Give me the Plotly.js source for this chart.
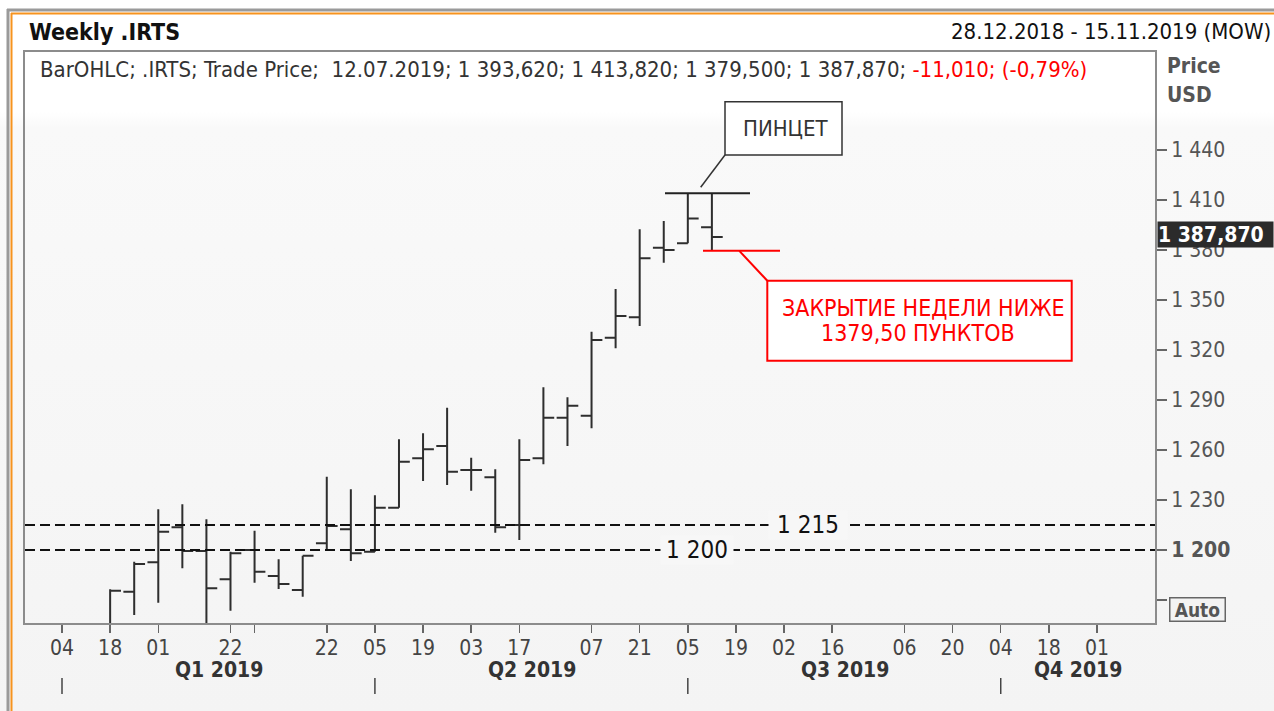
<!DOCTYPE html>
<html>
<head>
<meta charset="utf-8">
<script src="https://cdn.plot.ly/plotly-3.0.1.min.js"></script>
<style>
  html, body { margin:0; padding:0; }
  body { width:1274px; height:711px; overflow:hidden;
    background: linear-gradient(to bottom, #ffffff 0px, #ffffff 112px, #f9f9f9 128px, #f4f4f4 711px); }
  #chart { width:1274px; height:711px; }
</style>
</head>
<body>
<div id="chart"></div>
<script>
// ---- data (weekly bars, Friday dates) ----
const weeks = ['2019-01-18','2019-01-25','2019-02-01','2019-02-08','2019-02-15','2019-02-22',
  '2019-03-01','2019-03-08','2019-03-15','2019-03-22','2019-03-29','2019-04-05','2019-04-12',
  '2019-04-19','2019-04-26','2019-05-03','2019-05-10','2019-05-17','2019-05-24','2019-05-31',
  '2019-06-07','2019-06-14','2019-06-21','2019-06-28','2019-07-05','2019-07-12'];
const openP  = [1140.0,1175.0,1192.6,1213.6,1199.4,1182.4,1200.0,1184.4,1176.0,1204.0,1212.4,1199.0,1225.4,
  1255.0,1262.4,1248.0,1243.6,1215.0,1255.0,1279.4,1280.6,1327.4,1339.6,1381.4,1384.0,1393.62];
const highP  = [1176.5,1193.0,1224.4,1227.4,1218.4,1199.0,1211.6,1194.4,1196.6,1244.0,1236.4,1232.8,1266.4,
  1270.0,1285.4,1255.4,1248.4,1266.4,1297.6,1291.6,1331.0,1356.6,1392.4,1397.4,1414.0,1413.82];
const lowP   = [1135.0,1161.0,1168.4,1189.0,1150.0,1163.6,1180.4,1176.6,1172.0,1200.4,1193.4,1199.0,1225.4,
  1241.4,1239.0,1235.6,1210.4,1206.0,1251.4,1262.4,1273.0,1321.0,1334.4,1372.4,1384.0,1379.50];
const closeP = [1175.5,1191.6,1211.0,1199.4,1177.0,1198.0,1187.0,1179.6,1196.6,1214.4,1198.0,1225.4,1253.0,
  1260.4,1247.0,1248.0,1213.6,1254.0,1279.4,1286.6,1326.0,1340.4,1375.0,1380.0,1398.88,1387.87];

const levels = [1215, 1200];
const levelLabels = ['1 215', '1 200'];

const xTickVals = ['2019-01-04','2019-01-18','2019-02-01','2019-02-22','2019-03-01','2019-03-22',
  '2019-04-05','2019-04-19','2019-05-03','2019-05-17','2019-06-07','2019-06-21','2019-07-05',
  '2019-07-19','2019-08-02','2019-08-16','2019-09-06','2019-09-20','2019-10-04','2019-10-18','2019-11-01'];
const xTickText = ['04','18','01','22','','22','05','19','03','17','07','21','05','19','02','16','06','20','04','18','01'];

const quarterStarts = ['2019-01-04','2019-04-05','2019-07-05','2019-10-04'];
const quarterLabels = ['Q1 2019','Q2 2019','Q3 2019','Q4 2019'];

const yTickVals = [1170,1200,1230,1260,1290,1320,1350,1380,1410,1440];
const yTickText = ['','<b>1 200</b>','1 230','1 260','1 290','1 320','1 350','1 380','1 410','1 440'];

const symbol = '.IRTS';
const title = 'Weekly .IRTS';
const periodText = '28.12.2018 - 15.11.2019 (MOW)';
const tweezerText = 'ПИНЦЕТ';
const closeNoteLines = ['ЗАКРЫТИЕ НЕДЕЛИ НИЖЕ', '1379,50 ПУНКТОВ'];

// ---- helpers for layout placement ----
const W = 1274, H = 711, ML = 25, MR = 119, MT = 52, MB = 88;
const PW = W - ML - MR, PH = H - MT - MB;
const px = x => (x - ML) / PW;
const py = y => (H - MB - y) / PH;
const t0 = Date.UTC(2018, 11, 28);
const WEEKPX = 24.07, X0 = 37.93;
function xw(pix) {
  const d = new Date(t0 + (pix - X0) / WEEKPX * 7 * 864e5);
  return d.toISOString().slice(0, 19).replace('T', ' ');
}
const yv = y => 1200 + (550 - y) * 0.6;

function fmt(v, dec) {
  const s = Math.abs(v).toFixed(dec).split('.');
  const int = s[0].replace(/\B(?=(\d{3})+(?!\d))/g, ' ');
  return (v < 0 ? '-' : '') + int + (dec ? ',' + s[1] : '');
}

const F = '"DejaVu Sans Condensed", "Liberation Sans", Arial, sans-serif';
const n = weeks.length - 1;
const d = weeks[n].split('-');
const chg = closeP[n] - closeP[n - 1];
const pct = chg / closeP[n - 1] * 100;
const legendText = 'BarOHLC; ' + symbol + '; Trade Price;  ' + d[2] + '.' + d[1] + '.' + d[0] + '; ' +
  fmt(openP[n], 3) + '; ' + fmt(highP[n], 3) + '; ' + fmt(lowP[n], 3) + '; ' + fmt(closeP[n], 3) + '; ' +
  '<span style="color:#ff0000">' + fmt(chg, 3) + '; (' + fmt(pct, 2) + '%)</span>';

const trace = {
  type: 'ohlc', x: weeks, open: openP, high: highP, low: lowP, close: closeP,
  increasing: { line: { color: '#2e2e2e', width: 2 } },
  decreasing: { line: { color: '#2e2e2e', width: 2 } },
  tickwidth: 0.45, hoverinfo: 'skip'
};

const shapes = [];
const annotations = [];

// frame
shapes.push({ type:'line', xref:'paper', yref:'paper', x0:px(7), x1:px(1280), y0:py(10), y1:py(10), line:{color:'#9a9a9a', width:3} });
shapes.push({ type:'line', xref:'paper', yref:'paper', x0:px(8), x1:px(8), y0:py(9), y1:py(720), line:{color:'#9a9a9a', width:3} });
shapes.push({ type:'line', xref:'paper', yref:'paper', x0:px(11), x1:px(1280), y0:py(13.5), y1:py(13.5), line:{color:'#f7931e', width:2} });
shapes.push({ type:'line', xref:'paper', yref:'paper', x0:px(11.5), x1:px(11.5), y0:py(13), y1:py(720), line:{color:'#f7931e', width:2} });

// horizontal levels
levels.forEach(l => shapes.push({ type:'line', xref:'paper', yref:'y', x0:0, x1:1, y0:l, y1:l,
  line:{ color:'#111', width:2, dash:'10px,5px' } }));
annotations.push({ xref:'paper', yref:'y', x:px(808), y:levels[0], text:levelLabels[0], showarrow:false,
  font:{ size:24, color:'#111' }, bgcolor:'#f7f7f7', width:78, borderpad:0, xanchor:'center', yanchor:'middle' });
annotations.push({ xref:'paper', yref:'y', x:px(697), y:levels[1], text:levelLabels[1], showarrow:false,
  font:{ size:24, color:'#111' }, bgcolor:'#f7f7f7', width:72, borderpad:0, xanchor:'center', yanchor:'middle' });

// tweezer annotation
const topHigh = Math.max(highP[n], highP[n - 1]);
shapes.push({ type:'line', xref:'x', yref:'y', x0:xw(665), x1:xw(750), y0:topHigh, y1:topHigh, line:{color:'#222', width:2} });
shapes.push({ type:'line', xref:'x', yref:'y', x0:xw(700.7), x1:xw(725), y0:yv(187.3), y1:yv(155), line:{color:'#333', width:1.5} });
shapes.push({ type:'rect', xref:'x', yref:'y', x0:xw(725), x1:xw(842), y0:yv(155), y1:yv(101.7), fillcolor:'#ffffff', line:{color:'#333', width:1.5} });
annotations.push({ xref:'x', yref:'y', x:xw(785), y:yv(128.5), text:tweezerText, showarrow:false,
  font:{ size:22, color:'#333' }, xanchor:'center', yanchor:'middle' });

// weekly close annotation
shapes.push({ type:'line', xref:'x', yref:'y', x0:xw(703), x1:xw(780), y0:lowP[n], y1:lowP[n], line:{color:'#ff0000', width:2} });
shapes.push({ type:'line', xref:'x', yref:'y', x0:xw(739.3), x1:xw(767.3), y0:lowP[n], y1:yv(280.7), line:{color:'#ff0000', width:2} });
shapes.push({ type:'rect', xref:'x', yref:'y', x0:xw(767.3), x1:xw(1071.7), y0:yv(360.7), y1:yv(280.7), fillcolor:'#ffffff', line:{color:'#ff0000', width:2} });
annotations.push({ xref:'x', yref:'y', x:xw(923), y:yv(307.5), text:closeNoteLines[0], showarrow:false,
  font:{ size:23, color:'#ff0000' }, xanchor:'center', yanchor:'middle' });
annotations.push({ xref:'x', yref:'y', x:xw(918), y:yv(332.5), text:closeNoteLines[1], showarrow:false,
  font:{ size:23, color:'#ff0000' }, xanchor:'center', yanchor:'middle' });

// quarter separators & labels
quarterStarts.forEach(q => shapes.push({ type:'line', xref:'x', yref:'paper', x0:q, x1:q, y0:py(678), y1:py(694),
  line:{color:'#444', width:1.5} }));
const qCenters = [px(218.5), px(531.5), px(844.5), px(1078)];
quarterLabels.forEach((q, i) => annotations.push({ xref:'paper', yref:'paper', x:qCenters[i], y:py(670), text:'<b>' + q + '</b>',
  showarrow:false, font:{ size:21, color:'#333' }, xanchor:'center', yanchor:'middle' }));

// header texts
annotations.push({ xref:'paper', yref:'paper', x:px(27), y:py(32), text:'<b>' + title + '</b>', showarrow:false,
  font:{ size:23, color:'#111' }, xanchor:'left', yanchor:'middle' });
annotations.push({ xref:'paper', yref:'paper', x:px(1273), y:py(32), text:periodText, showarrow:false,
  font:{ size:22, color:'#111' }, xanchor:'right', yanchor:'middle' });
annotations.push({ xref:'paper', yref:'paper', x:px(38), y:py(70), text:legendText, showarrow:false,
  font:{ size:22, color:'#333' }, xanchor:'left', yanchor:'middle' });
annotations.push({ xref:'paper', yref:'paper', x:px(1165), y:py(66), text:'<b>Price</b>', showarrow:false,
  font:{ size:21, color:'#555' }, xanchor:'left', yanchor:'middle' });
annotations.push({ xref:'paper', yref:'paper', x:px(1165), y:py(95), text:'<b>USD</b>', showarrow:false,
  font:{ size:21, color:'#555' }, xanchor:'left', yanchor:'middle' });

// last price tag
annotations.push({ xref:'paper', yref:'y', x:px(1157), y:closeP[n] + 1.7, text:'<b>' + fmt(closeP[n], 3) + '</b>', showarrow:false,
  font:{ size:21, color:'#ffffff' }, bgcolor:'#2b2b2b', xanchor:'left', yanchor:'middle', align:'left', width:115, height:25, borderpad:0 });
// auto box
annotations.push({ xref:'paper', yref:'paper', x:px(1169), y:py(609), text:'<b>Auto</b>', showarrow:false,
  font:{ size:19, color:'#555' }, bgcolor:'#f3f3f3', bordercolor:'#666', borderwidth:1.5, borderpad:0,
  xanchor:'left', yanchor:'middle', width:54, height:22 });

const layout = {
  width: W, height: H,
  margin: { l: ML, r: MR, t: MT, b: MB, pad: 0 },
  paper_bgcolor: 'rgba(0,0,0,0)', plot_bgcolor: 'rgba(0,0,0,0)',
  font: { family: F, size: 20, color: '#333' },
  showlegend: false, hovermode: false, dragmode: false,
  xaxis: {
    type: 'date', range: [xw(ML), xw(W - MR)], tickvals: xTickVals, ticktext: xTickText,
    ticks: 'outside', ticklen: 8, tickwidth: 1.5, tickcolor: '#666', ticklabelstandoff: -3,
    showline: true, mirror: true, linecolor: '#8c8c8c', linewidth: 2,
    showgrid: false, zeroline: false, rangeslider: { visible: false },
    tickfont: { size: 21, color: '#444' }, fixedrange: true
  },
  yaxis: {
    side: 'right', range: [yv(623), yv(52)], tickvals: yTickVals, ticktext: yTickText,
    ticks: 'outside', ticklen: 10, tickwidth: 1.5, tickcolor: '#666',
    showline: true, mirror: true, linecolor: '#8c8c8c', linewidth: 2,
    showgrid: false, zeroline: false, tickfont: { size: 21, color: '#555' }, fixedrange: true
  },
  shapes: shapes,
  annotations: annotations
};

Plotly.newPlot('chart', [trace], layout, { displayModeBar: false, staticPlot: true });
</script>
</body>
</html>
